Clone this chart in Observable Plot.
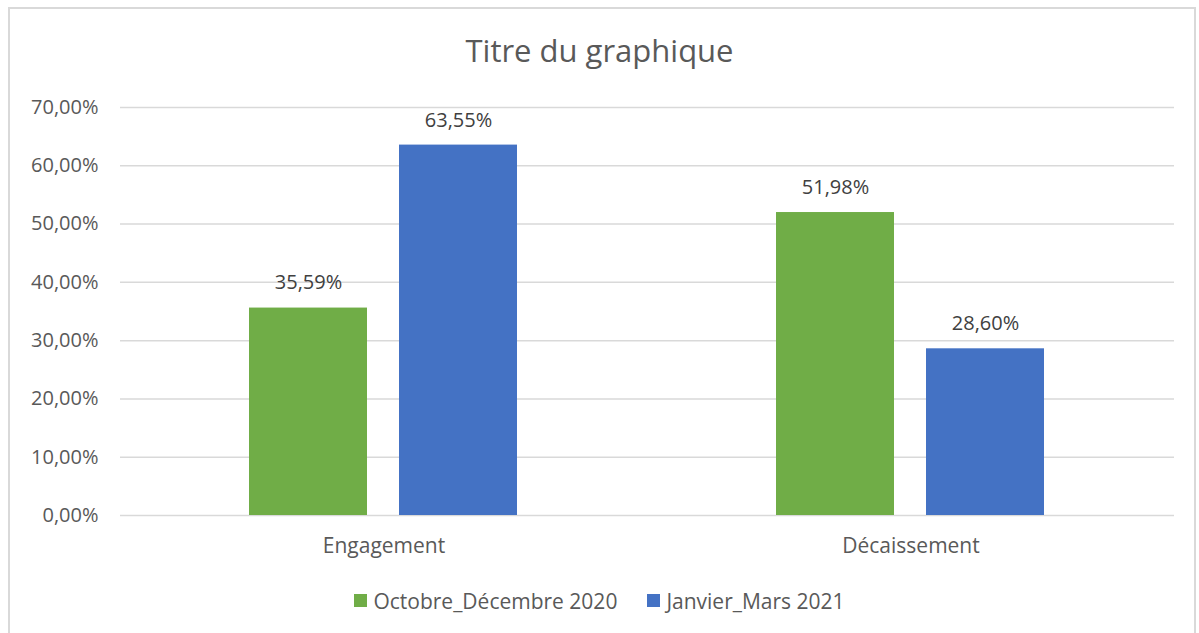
<!DOCTYPE html>
<html>
<head>
<meta charset="utf-8">
<script src="https://cdn.jsdelivr.net/npm/d3@7"></script>
<script src="https://cdn.jsdelivr.net/npm/@observablehq/plot@0.6"></script>
<style>
  html, body { margin: 0; padding: 0; background: #fff; }
  body { width: 1199px; height: 633px; overflow: hidden; position: relative; font-family: "Open Sans", Lato, sans-serif; color: #595959; }
  #frame { position: absolute; left: 8px; top: 7px; width: 1188px; height: 640px; border: 2px solid #d9d9d9; box-sizing: border-box; }
  #title { position: relative; height: 80px; line-height: 100px; text-align: center; font-size: 31px; color: #595959; }
  #chart { position: relative; }
  #legend { position: relative; height: 73px; display: flex; justify-content: center; align-items: center; padding-top: 8px; box-sizing: border-box; font-size: 21px; color: #595959; gap: 30px; }
  .item { display: flex; align-items: center; gap: 6px; }
  .sw { width: 13px; height: 13px; display: inline-block; }
</style>
</head>
<body>
<div id="frame"></div>
<div id="title">Titre du graphique</div>
<div id="chart"></div>
<div id="legend"></div>
<script>
const categories = ["Engagement", "Décaissement"];
const series = ["Octobre_Décembre 2020", "Janvier_Mars 2021"];
const colors = ["#70ad47", "#4472c4"];
const valuesOct = [0.3559, 0.5198];
const valuesJan = [0.6355, 0.2860];
const yTicks = [0, 0.1, 0.2, 0.3, 0.4, 0.5, 0.6, 0.7];

const data = [];
categories.forEach((c, i) => {
  data.push({category: c, series: series[0], value: valuesOct[i]});
  data.push({category: c, series: series[1], value: valuesJan[i]});
});
const fmt = v => (v * 100).toFixed(2).replace(".", ",") + "%";

const plot = Plot.plot({
  width: 1199,
  height: 480,
  marginLeft: 120,
  marginRight: 25,
  marginTop: 27,
  marginBottom: 45,
  style: {fontFamily: "'Open Sans', Lato, sans-serif", fontSize: "20px", color: "#595959", background: "transparent"},
  fx: {domain: categories, padding: 0, label: null, axis: null},
  x: {domain: series, paddingInner: 0.2133, paddingOuter: 0.8633, axis: null},
  y: {domain: [0, 0.7], ticks: yTicks, tickFormat: fmt, label: null, tickSize: 0, tickPadding: 22},
  color: {domain: series, range: colors},
  marks: [
    Plot.ruleY(yTicks, {stroke: "#d9d9d9", strokeWidth: 1.5}),
    Plot.axisFx({anchor: "bottom", tickSize: 0, tickPadding: 23, fontSize: 21, label: null}),
    Plot.barY(data, {fx: "category", x: "series", y: "value", fill: "series"}),
    Plot.text(data, {fx: "category", x: "series", y: "value", text: d => fmt(d.value), dy: -25, fontSize: 20, fill: "#404040"})
  ]
});
document.getElementById("chart").appendChild(plot);

const legend = document.getElementById("legend");
series.forEach((s, i) => {
  const item = document.createElement("div");
  item.className = "item";
  const sw = document.createElement("span");
  sw.className = "sw";
  sw.style.background = colors[i];
  const t = document.createElement("span");
  t.textContent = s;
  item.appendChild(sw);
  item.appendChild(t);
  legend.appendChild(item);
});
</script>
</body>
</html>
